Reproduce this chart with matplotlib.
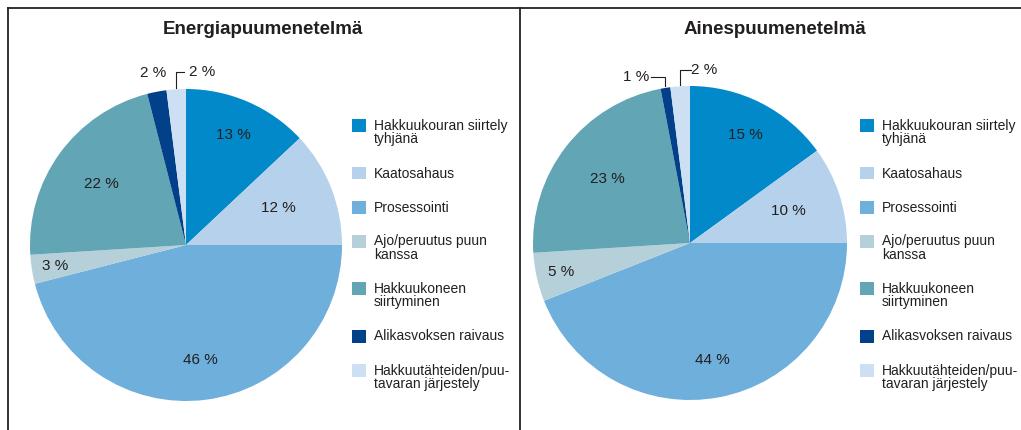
import numpy as np
import matplotlib.pyplot as plt
from matplotlib.lines import Line2D
from matplotlib.patches import Rectangle

plt.rcParams['font.family'] = ['Liberation Sans', 'DejaVu Sans']

W, H = 1021, 430

categories = ["Hakkuukouran siirtely\ntyhjänä", "Kaatosahaus", "Prosessointi",
              "Ajo/peruutus puun\nkanssa", "Hakkuukoneen\nsiirtyminen",
              "Alikasvoksen raivaus", "Hakkuutähteiden/puu-\ntavaran järjestely"]
colors = ["#0289c9", "#b6d1eb", "#6fafdb", "#b6d0d9", "#62a5b5", "#02408a", "#cde0f3"]

titles = ["Energiapuumenetelmä", "Ainespuumenetelmä"]
energia = [13, 12, 46, 3, 22, 2, 2]
ainespuu = [15, 10, 44, 5, 23, 1, 2]

# label distance (fraction of radius) per slice, per panel
lab_r = [[0.77, 0.64, 0.74, 0.85, 0.67, 1.12, None],
         [0.77, 0.66, 0.76, 0.84, 0.67, None, None]]

# pie geometry in pixels: centre x, centre y (from top), radius
geom = [(186, 245, 156), (690, 243, 157)]
title_x = [263, 775]
leg_x = [352, 860]

fig = plt.figure(figsize=(W / 100, H / 100), dpi=100)
txt_col = "#231f20"
lab_fs = 11


def px(x, y):
    return x / W, 1 - y / H


for i, vals in enumerate([energia, ainespuu]):
    cx, cy, r = geom[i]
    ax = fig.add_axes([(cx - r) / W, (H - cy - r) / H, 2 * r / W, 2 * r / H])
    wedges, _ = ax.pie(vals, colors=colors, startangle=90, counterclock=False,
                       radius=1, wedgeprops=dict(linewidth=0))
    ax.set_xlim(-1, 1)
    ax.set_ylim(-1, 1)
    ax.axis('off')

    for j, w in enumerate(wedges):
        if lab_r[i][j] is None:
            continue
        ang = np.deg2rad((w.theta1 + w.theta2) / 2)
        d = lab_r[i][j]
        ax.text(d * np.cos(ang), d * np.sin(ang), "%d %%" % vals[j],
                ha='center', va='center', fontsize=lab_fs, color=txt_col)

    # small slices with leader lines
    last = wedges[-1]
    ang = np.deg2rad((last.theta1 + last.theta2) / 2)
    x0, y0 = np.cos(ang), np.sin(ang)
    if i == 0:
        ax.plot([x0, x0, x0 + 0.05], [y0 * 1.01, 1.11, 1.11],
                color=txt_col, lw=0.8, clip_on=False)
        ax.text(x0 + 0.08, 1.11, "%d %%" % vals[-1], ha='left', va='center',
                fontsize=lab_fs, color=txt_col)
    else:
        ax.plot([x0, x0, x0 + 0.07], [y0 * 1.01, 1.10, 1.10],
                color=txt_col, lw=0.8, clip_on=False)
        ax.text(x0 + 0.07, 1.10, "%d %%" % vals[-1], ha='left', va='center',
                fontsize=lab_fs, color=txt_col)
        w5 = wedges[5]
        a5 = np.deg2rad((w5.theta1 + w5.theta2) / 2)
        x5, y5 = np.cos(a5), np.sin(a5)
        ax.plot([x5, x5, x5 - 0.09], [y5 * 1.01, 1.06, 1.06],
                color=txt_col, lw=0.8, clip_on=False)
        ax.text(x5 - 0.10, 1.06, "%d %%" % vals[5], ha='right', va='center',
                fontsize=lab_fs, color=txt_col)

    # title
    fig.text(*px(title_x[i], 30), titles[i], ha='center', va='center',
             fontsize=13.5, fontweight='bold', color=txt_col)

    # legend
    y = 126
    for lab, col in zip(categories, colors):
        fig.add_artist(Rectangle(px(leg_x[i], y + 6), 14 / W, 13 / H,
                                 transform=fig.transFigure, color=col, lw=0))
        fig.text(*px(leg_x[i] + 22, y - 7), lab, ha='left', va='top',
                 fontsize=10, color=txt_col, linespacing=0.95)
        y += 34 + 13.5 * lab.count("\n")

# frame
for xs, ys in [([7.5, 7.5], [430, 8]), ([7.5, 1021], [8, 8]), ([520, 520], [8, 430])]:
    fig.add_artist(Line2D([x / W for x in xs], [1 - v / H for v in ys],
                          color="#222222", lw=1.3, transform=fig.transFigure))

fig.savefig("out.png", dpi=100)
